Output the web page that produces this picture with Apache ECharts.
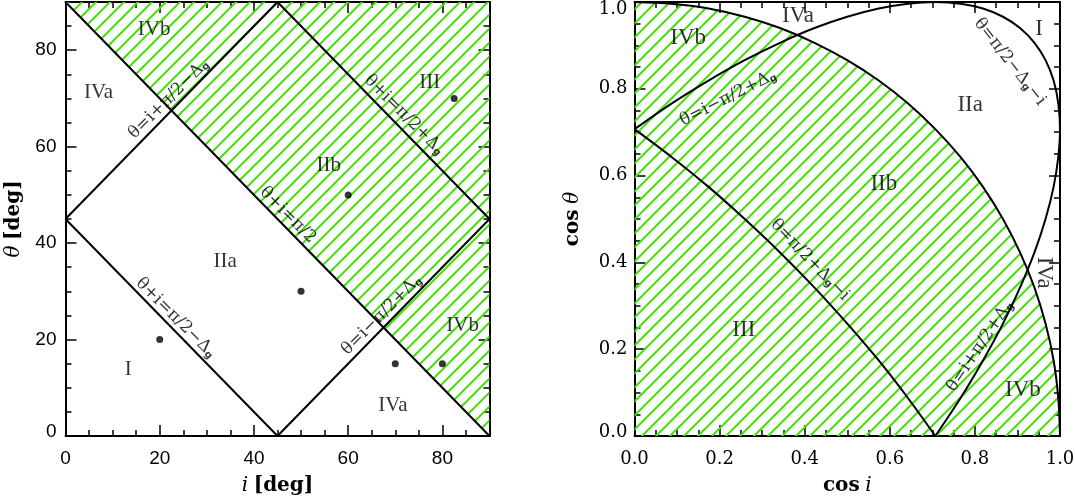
<!DOCTYPE html>
<html>
<head>
<meta charset="utf-8">
<script src="https://cdn.jsdelivr.net/npm/echarts@6/dist/echarts.min.js"></script>
<style>
html, body { margin: 0; padding: 0; background: #fff; }
#main { width: 1075px; height: 496px; }
</style>
</head>
<body>
<div id="main"></div>
<script>
// ---------- left panel, (i, theta) in degrees ----------
var diagLine = [[0, 90], [90, 0]];
var diamond = [[0, 45], [45, 90], [90, 45], [45, 0], [0, 45]];
var dots = [[20, 20], [50, 30], [60, 50], [70, 15], [80, 15], [82.5, 70]];
var leftRegionNames = ['IVb', 'IVa', 'III', 'IIb', 'IIa', 'I', 'IVa', 'IVb'];
var leftRegionAt = [[18.8, 84.2], [7.0, 71.3], [77.3, 73.4], [55.9, 56.2], [33.9, 36.1], [13.3, 13.7], [69.5, 6.4], [84.3, 23.0]];
var leftEqText = ['θ=i+π/2−Δ{g|g}', 'θ+i=π/2+Δ{g|g}', 'θ+i=π/2', 'θ+i=π/2−Δ{g|g}', 'θ=i−π/2+Δ{g|g}'];
var leftEqAt = [[21.9, 69.9], [71.9, 66.6], [47.2, 45.8], [23.4, 24.5], [67.1, 25.1]];
var leftEqRot = [45, -45, -45, -45, 45];

// ---------- right panel, (cos i, cos theta) ----------
var circleArc = [[0, 1], [0.087, 0.996], [0.174, 0.985], [0.259, 0.966], [0.342, 0.940], [0.423, 0.906],
	[0.5, 0.866], [0.574, 0.819], [0.643, 0.766], [0.707, 0.707], [0.766, 0.643], [0.819, 0.574],
	[0.866, 0.5], [0.906, 0.423], [0.940, 0.342], [0.966, 0.259], [0.985, 0.174], [0.996, 0.087], [1, 0]];
var upperLoop = [[0, 0.707], [0.087, 0.766], [0.174, 0.819], [0.259, 0.866], [0.342, 0.906], [0.423, 0.940],
	[0.5, 0.966], [0.574, 0.985], [0.643, 0.996], [0.707, 1], [0.766, 0.996], [0.819, 0.985],
	[0.866, 0.966], [0.906, 0.940], [0.940, 0.906], [0.966, 0.866], [0.985, 0.819], [0.996, 0.766],
	[1, 0.707], [0.996, 0.643], [0.985, 0.574], [0.966, 0.5], [0.940, 0.423], [0.906, 0.342],
	[0.866, 0.259], [0.819, 0.174], [0.766, 0.087], [0.707, 0]];
var lowerArc = [[0.707, 0], [0.643, 0.087], [0.574, 0.174], [0.5, 0.259], [0.423, 0.342], [0.342, 0.423],
	[0.259, 0.5], [0.174, 0.574], [0.087, 0.643], [0, 0.707]];
var rightRegionNames = ['IVb', 'IVa', 'IIa', 'IIb', 'I', 'III', 'IVa', 'IVb'];
var rightRegionAt = [[0.126, 0.917], [0.384, 0.968], [0.789, 0.763], [0.586, 0.581], [0.951, 0.938], [0.257, 0.244], [0.962, 0.376], [0.913, 0.106]];
var rightEqText = ['θ=i−π/2+Δ{g|g}', 'θ=π/2−Δ{g|g}−i', 'θ=π/2+Δ{g|g}−i', 'θ=i+π/2+Δ{g|g}'];
var rightEqAt = [[0.220, 0.779], [0.882, 0.862], [0.412, 0.406], [0.812, 0.207]];
var rightEqRot = [27, -52, -46, 56];

var chart = echarts.init(document.getElementById('main'));

var SERIF = 'Liberation Serif';
var HATCH = '#44e010';

// diagonal hatch tile
function makeHatch() {
	var s = 14, c = document.createElement('canvas');
	c.width = s; c.height = s;
	var g = c.getContext('2d');
	g.strokeStyle = HATCH;
	g.lineWidth = 2;
	g.beginPath();
	g.moveTo(-2, s + 2); g.lineTo(s + 2, -2);
	g.moveTo(-2, 2); g.lineTo(2, -2);
	g.moveTo(s - 2, s + 2); g.lineTo(s + 2, s - 2);
	g.stroke();
	return c;
}
var hatch = { image: makeHatch(), repeat: 'repeat' };

var nameRich = {
	it: { fontFamily: 'DejaVu Serif', fontStyle: 'italic', fontSize: 20, color: '#000' },
	bd: { fontFamily: 'DejaVu Serif', fontWeight: 'bold', fontSize: 20, color: '#000' }
};
var eqRich = {
	g: { fontFamily: 'DejaVu Sans', fontWeight: 'bold', fontSize: 10, verticalAlign: 'bottom', color: '#000' }
};
var minor = { show: true, splitNumber: 4, length: 6, lineStyle: { color: '#000', width: 1.5 } };

function axis(grid, pos, min, max, step, major, withLabels, extra) {
	var o = {
		gridIndex: grid, type: 'value', position: pos, min: min, max: max, interval: step,
		axisLine: { show: !major, onZero: false, lineStyle: { color: '#000', width: 2 } },
		axisTick: { show: true, inside: true, length: major ? 11 : 6, lineStyle: { color: '#000', width: 1.5 } },
		axisLabel: withLabels || { show: false },
		splitLine: { show: false }
	};
	for (var k in extra) o[k] = extra[k];
	return o;
}

var leftLabelX = { show: true, color: '#000', fontFamily: 'Liberation Sans', fontSize: 19, showMaxLabel: false, margin: 13 };
var leftLabelY = {
	show: true, color: '#000', fontFamily: 'Liberation Sans', fontSize: 19, showMaxLabel: false, margin: 9,
	formatter: function (v) { return v === 0 ? '{lo|0}' : String(v); },
	rich: { lo: { fontFamily: 'Liberation Sans', fontSize: 19, color: '#000', padding: [0, 0, 8, 0] } }
};
var rightLabelX = {
	show: true, color: '#000', fontFamily: 'DejaVu Serif', fontSize: 18, margin: 14,
	formatter: function (v) { return v.toFixed(1); }
};
var rightLabelY = {
	show: true, color: '#000', fontFamily: 'DejaVu Serif', fontSize: 18, margin: 7,
	formatter: function (v) {
		if (v === 1) return '{hi|1.0}';
		if (v === 0) return '{lo|0.0}';
		return v.toFixed(1);
	},
	rich: {
		hi: { fontFamily: 'DejaVu Serif', fontSize: 18, color: '#000', padding: [14, 0, 0, 0] },
		lo: { fontFamily: 'DejaVu Serif', fontSize: 18, color: '#000', padding: [0, 0, 8, 0] }
	}
};

var xAxes = [
	axis(0, 'bottom', 0, 90, 5, false),
	axis(0, 'bottom', 0, 90, 20, true, leftLabelX, {
		name: '{it|i} {bd|[deg]}', nameLocation: 'middle', nameGap: 40,
		nameTextStyle: { fontSize: 20, rich: nameRich }
	}),
	axis(0, 'top', 0, 90, 5, false),
	axis(0, 'top', 0, 90, 20, true),
	axis(1, 'bottom', 0, 1, 0.2, false, rightLabelX, {
		minorTick: minor,
		name: '{bd|cos} {it|i}', nameLocation: 'middle', nameGap: 40,
		nameTextStyle: { fontSize: 20, rich: nameRich }
	}),
	axis(1, 'top', 0, 1, 0.2, false, null, { minorTick: minor })
];
xAxes[4].axisTick.length = 11;
xAxes[5].axisTick.length = 11;

var yAxes = [
	axis(0, 'left', 0, 90, 5, false),
	axis(0, 'left', 0, 90, 20, true, leftLabelY, {
		name: '{it|θ} {bd|[deg]}', nameLocation: 'middle', nameGap: 42,
		nameTextStyle: { fontSize: 20, rich: nameRich }
	}),
	axis(0, 'right', 0, 90, 5, false),
	axis(0, 'right', 0, 90, 20, true),
	axis(1, 'left', 0, 1, 0.2, false, rightLabelY, {
		minorTick: minor,
		name: '{bd|cos} {it|θ}', nameLocation: 'middle', nameGap: 52,
		nameTextStyle: { fontSize: 20, rich: nameRich }
	}),
	axis(1, 'right', 0, 1, 0.2, false, null, { minorTick: minor })
];
yAxes[4].axisTick.length = 11;
yAxes[5].axisTick.length = 11;

function textSeries(xi, yi, names, at, rot, size) {
	return {
		type: 'scatter', xAxisIndex: xi, yAxisIndex: yi, symbolSize: 0, silent: true, z: 5,
		data: names.map(function (n, k) {
			return {
				value: at[k],
				label: {
					show: true, position: 'inside', formatter: n, rotate: rot ? rot[k] : 0,
					color: '#000', fontFamily: size ? SERIF : 'DejaVu Serif', fontSize: size || 17,
					rich: eqRich
				}
			};
		})
	};
}

function curve(xi, yi, data, smooth) {
	return {
		type: 'line', xAxisIndex: xi, yAxisIndex: yi, data: data, symbol: 'none', silent: true,
		smooth: smooth || false, z: 3,
		lineStyle: { color: '#000', width: 2 }
	};
}

var rightRegionRot = rightRegionNames.map(function (n, k) { return k === 6 ? -90 : 0; });

var option = {
	animation: false,
	backgroundColor: '#fff',
	grid: [
		{ left: 65.5, right: 585.5, top: 2, bottom: 60, outerBoundsMode: 'none' },
		{ left: 634.5, right: 15, top: 2, bottom: 60, outerBoundsMode: 'none' }
	],
	xAxis: xAxes,
	yAxis: yAxes,
	series: [
		// hatched zones
		{
			type: 'line', xAxisIndex: 1, yAxisIndex: 1, data: diagLine, symbol: 'none', silent: true, z: 1,
			lineStyle: { width: 0 }, areaStyle: { origin: 'end', color: hatch, opacity: 1 }
		},
		{
			type: 'line', xAxisIndex: 4, yAxisIndex: 4, data: circleArc, symbol: 'none', silent: true, z: 1,
			smooth: 0.3, lineStyle: { width: 0 }, areaStyle: { origin: 'start', color: hatch, opacity: 1 }
		},
		curve(1, 1, diagLine),
		curve(1, 1, diamond),
		{
			type: 'scatter', xAxisIndex: 1, yAxisIndex: 1, data: dots, symbolSize: 7, z: 4,
			itemStyle: { color: '#000' }
		},
		textSeries(1, 1, leftRegionNames, leftRegionAt, null, 21),
		textSeries(1, 1, leftEqText, leftEqAt, leftEqRot),
		curve(4, 4, circleArc, 0.3),
		curve(4, 4, upperLoop, 0.3),
		curve(4, 4, lowerArc, 0.3),
		textSeries(4, 4, rightRegionNames, rightRegionAt, rightRegionRot, 23),
		textSeries(4, 4, rightEqText, rightEqAt, rightEqRot)
	]
};
chart.setOption(option);
</script>
</body>
</html>
